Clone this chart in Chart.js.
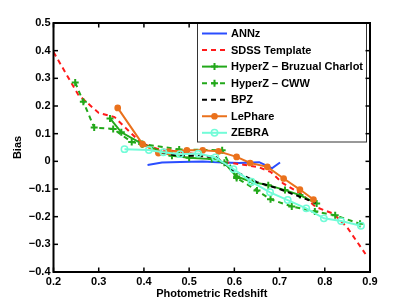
<!DOCTYPE html>
<html><head><meta charset="utf-8">
<script src="https://cdn.jsdelivr.net/npm/chart.js@4/dist/chart.umd.min.js"></script>
<style>html,body{margin:0;padding:0;background:#fff}canvas{display:block}</style>
</head><body>
<canvas id="c" width="409" height="307"></canvas>
<script>
const seriesNames = ['ANNz','SDSS Template','HyperZ \u2013 Bruzual Charlot','HyperZ \u2013 CWW','BPZ','LePhare','ZEBRA'];
const annzX = [0.408,0.44,0.48,0.53,0.575,0.61,0.655,0.683,0.701];
const annzY = [-0.013,-0.004,-0.002,-0.001,-0.004,-0.006,-0.003,-0.025,-0.004];
const sdssX = [0.2,0.255,0.3,0.335,0.36,0.395,0.43,0.5,0.55,0.58,0.62,0.655,0.68,0.708,0.75,0.78,0.82,0.85,0.89];
const sdssY = [0.395,0.24,0.175,0.16,0.12,0.065,0.045,0.03,0.015,-0.003,-0.012,-0.022,-0.038,-0.08,-0.12,-0.165,-0.19,-0.24,-0.335];
const bcX = [0.325,0.35,0.397,0.462,0.5,0.55,0.578,0.605,0.64,0.675,0.712,0.745,0.782];
const bcY = [0.155,0.105,0.062,0.02,0.013,0.008,-0.005,-0.055,-0.075,-0.086,-0.104,-0.122,-0.152];
const cwwX = [0.248,0.266,0.29,0.332,0.373,0.395,0.478,0.573,0.605,0.65,0.68,0.727,0.778,0.823,0.878];
const cwwY = [0.285,0.215,0.122,0.117,0.07,0.063,0.043,0.04,-0.06,-0.105,-0.137,-0.163,-0.181,-0.195,-0.226];
const bpzX = [0.44,0.47,0.51,0.56,0.6,0.65,0.7,0.74,0.78];
const bpzY = [0.03,0.022,0.02,0.015,-0.035,-0.075,-0.1,-0.125,-0.15];
const lepX = [0.342,0.397,0.432,0.455,0.495,0.53,0.565,0.605,0.635,0.673,0.709,0.745,0.775];
const lepY = [0.193,0.062,0.03,0.035,0.04,0.04,0.036,0.016,-0.006,-0.02,-0.062,-0.102,-0.138];
const zebX = [0.357,0.411,0.443,0.48,0.52,0.558,0.598,0.638,0.679,0.718,0.759,0.798,0.836,0.88];
const zebY = [0.044,0.041,0.033,0.026,0.028,0.014,-0.028,-0.074,-0.112,-0.14,-0.17,-0.206,-0.216,-0.233];
const xTicks = [0.2,0.3,0.4,0.5,0.6,0.7,0.8,0.9];
const yTicks = [0.5,0.4,0.3,0.2,0.1,0,-0.1,-0.2,-0.3,-0.4];

const pts = (xs, ys) => xs.map((x, i) => ({x, y: ys[i]}));
const GREEN = '#22a81a';
const styles = [
  {c:'#2a4dff', dash:[], ps:false},
  {c:'#ff1a1a', dash:[5,4], ps:false},
  {c:GREEN, dash:[], ps:'cross', r:3.5},
  {c:GREEN, dash:[5,4], ps:'cross', r:3.5},
  {c:'#000000', dash:[5,4], ps:false},
  {c:'#ea711c', dash:[], ps:'circle', fill:true, r:2.6},
  {c:'#72fcd8', dash:[], ps:'circle', fill:false, r:3.2}
];
const raw = [pts(annzX,annzY),pts(sdssX,sdssY),pts(bcX,bcY),pts(cwwX,cwwY),pts(bpzX,bpzY),pts(lepX,lepY),pts(zebX,zebY)];
const datasets = raw.map((d, i) => {
  const s = styles[i];
  return {
    label: seriesNames[i], data: d, order: raw.length - 1 - i,
    borderColor: s.c, borderWidth: 2, borderDash: s.dash, fill: false, tension: 0,
    pointStyle: s.ps || 'circle', pointRadius: s.ps ? s.r : 0,
    pointBorderWidth: s.ps === 'cross' ? 2 : 1.5,
    pointBorderColor: s.c,
    pointBackgroundColor: s.fill ? s.c : 'rgba(255,255,255,0)'
  };
});

const FONT = {family:'"Liberation Sans", Arial, sans-serif', size:11, weight:'bold'};
const fmt = v => { const r = Math.round(v*10)/10; if (r === 0) return '0'; const t = Math.abs(r).toFixed(1); return r < 0 ? '\u2212' + t : t; };

const LEG = {x0:197.5, y0:23, x1:366.5, y1:142};

const framePlugin = {
  id:'frame',
  afterDatasetsDraw(chart) {
    const ctx = chart.ctx, a = chart.chartArea, xs = chart.scales.x, ys = chart.scales.y;
    ctx.save();
    ctx.setLineDash([]);
    ctx.strokeStyle = '#000'; ctx.lineWidth = 1.5;
    const tl = 4.5;
    xTicks.forEach(v => {
      const px = xs.getPixelForValue(v);
      ctx.beginPath(); ctx.moveTo(px, a.bottom); ctx.lineTo(px, a.bottom - tl); ctx.stroke();
      if (px < LEG.x0 - 2) { ctx.beginPath(); ctx.moveTo(px, a.top); ctx.lineTo(px, a.top + tl); ctx.stroke(); }
    });
    ctx.fillStyle = '#fff';
    ctx.fillRect(LEG.x0, LEG.y0, LEG.x1 - LEG.x0, LEG.y1 - LEG.y0);
    ctx.strokeStyle = '#333'; ctx.lineWidth = 1;
    ctx.strokeRect(LEG.x0, LEG.y0, LEG.x1 - LEG.x0, LEG.y1 - LEG.y0);
    ctx.font = 'bold 11px "Liberation Sans", Arial, sans-serif';
    ctx.textBaseline = 'middle'; ctx.textAlign = 'left';
    chart.data.datasets.forEach((ds, i) => {
      const y = 33.5 + i * 16.55;
      ctx.strokeStyle = ds.borderColor; ctx.lineWidth = 2; ctx.setLineDash(ds.borderDash);
      ctx.beginPath(); ctx.moveTo(202, y); ctx.lineTo(227, y); ctx.stroke();
      ctx.setLineDash([]);
      if (ds.pointRadius > 0) {
        const cx = 214.5;
        ctx.lineWidth = ds.pointBorderWidth; ctx.strokeStyle = ds.pointBorderColor;
        if (ds.pointStyle === 'cross') {
          const r = ds.pointRadius;
          ctx.beginPath(); ctx.moveTo(cx - r, y); ctx.lineTo(cx + r, y); ctx.moveTo(cx, y - r); ctx.lineTo(cx, y + r); ctx.stroke();
        } else {
          ctx.beginPath(); ctx.arc(cx, y, ds.pointRadius, 0, Math.PI*2);
          ctx.fillStyle = ds.pointBackgroundColor; ctx.fill(); ctx.stroke();
        }
      }
      ctx.fillStyle = '#000';
      ctx.fillText(ds.label, 231, y + 0.5);
    });
    ctx.strokeStyle = '#000'; ctx.lineWidth = 1.5;
    yTicks.forEach(v => {
      const py = ys.getPixelForValue(v);
      ctx.beginPath(); ctx.moveTo(a.left, py); ctx.lineTo(a.left + tl, py); ctx.stroke();
      ctx.beginPath(); ctx.moveTo(a.right, py); ctx.lineTo(a.right - tl, py); ctx.stroke();
    });
    ctx.lineWidth = 2;
    ctx.strokeRect(a.left, a.top, a.right - a.left, a.bottom - a.top);
    ctx.restore();
  }
};

new Chart(document.getElementById('c'), {
  type:'line',
  data:{datasets},
  plugins:[framePlugin],
  options:{
    responsive:false, animation:false, devicePixelRatio:1,
    layout:{padding:{left:0, right:39, top:23, bottom:0}},
    plugins:{legend:{display:false}, tooltip:{enabled:false}},
    scales:{
      x:{type:'linear', min:0.2, max:0.9,
        afterBuildTicks(s){ s.ticks = xTicks.map(v => ({value:v})); },
        ticks:{callback:fmt, font:FONT, color:'#000', padding:3, maxRotation:0, autoSkip:false},
        grid:{display:false, drawTicks:false}, border:{display:false},
        title:{display:true, text:'Photometric Redshift', font:FONT, color:'#000', padding:{top:0,bottom:6}},
        afterFit(s){ s.height = 35; }
      },
      y:{type:'linear', min:-0.4, max:0.5,
        afterBuildTicks(s){ s.ticks = yTicks.map(v => ({value:v})); },
        ticks:{callback:fmt, font:FONT, color:'#000', padding:3, autoSkip:false},
        grid:{display:false, drawTicks:false}, border:{display:false},
        title:{display:true, text:'Bias', font:FONT, color:'#000', padding:{top:11,bottom:0}},
        afterFit(s){ s.width = 53.5; }
      }
    }
  }
});
</script>
</body></html>
